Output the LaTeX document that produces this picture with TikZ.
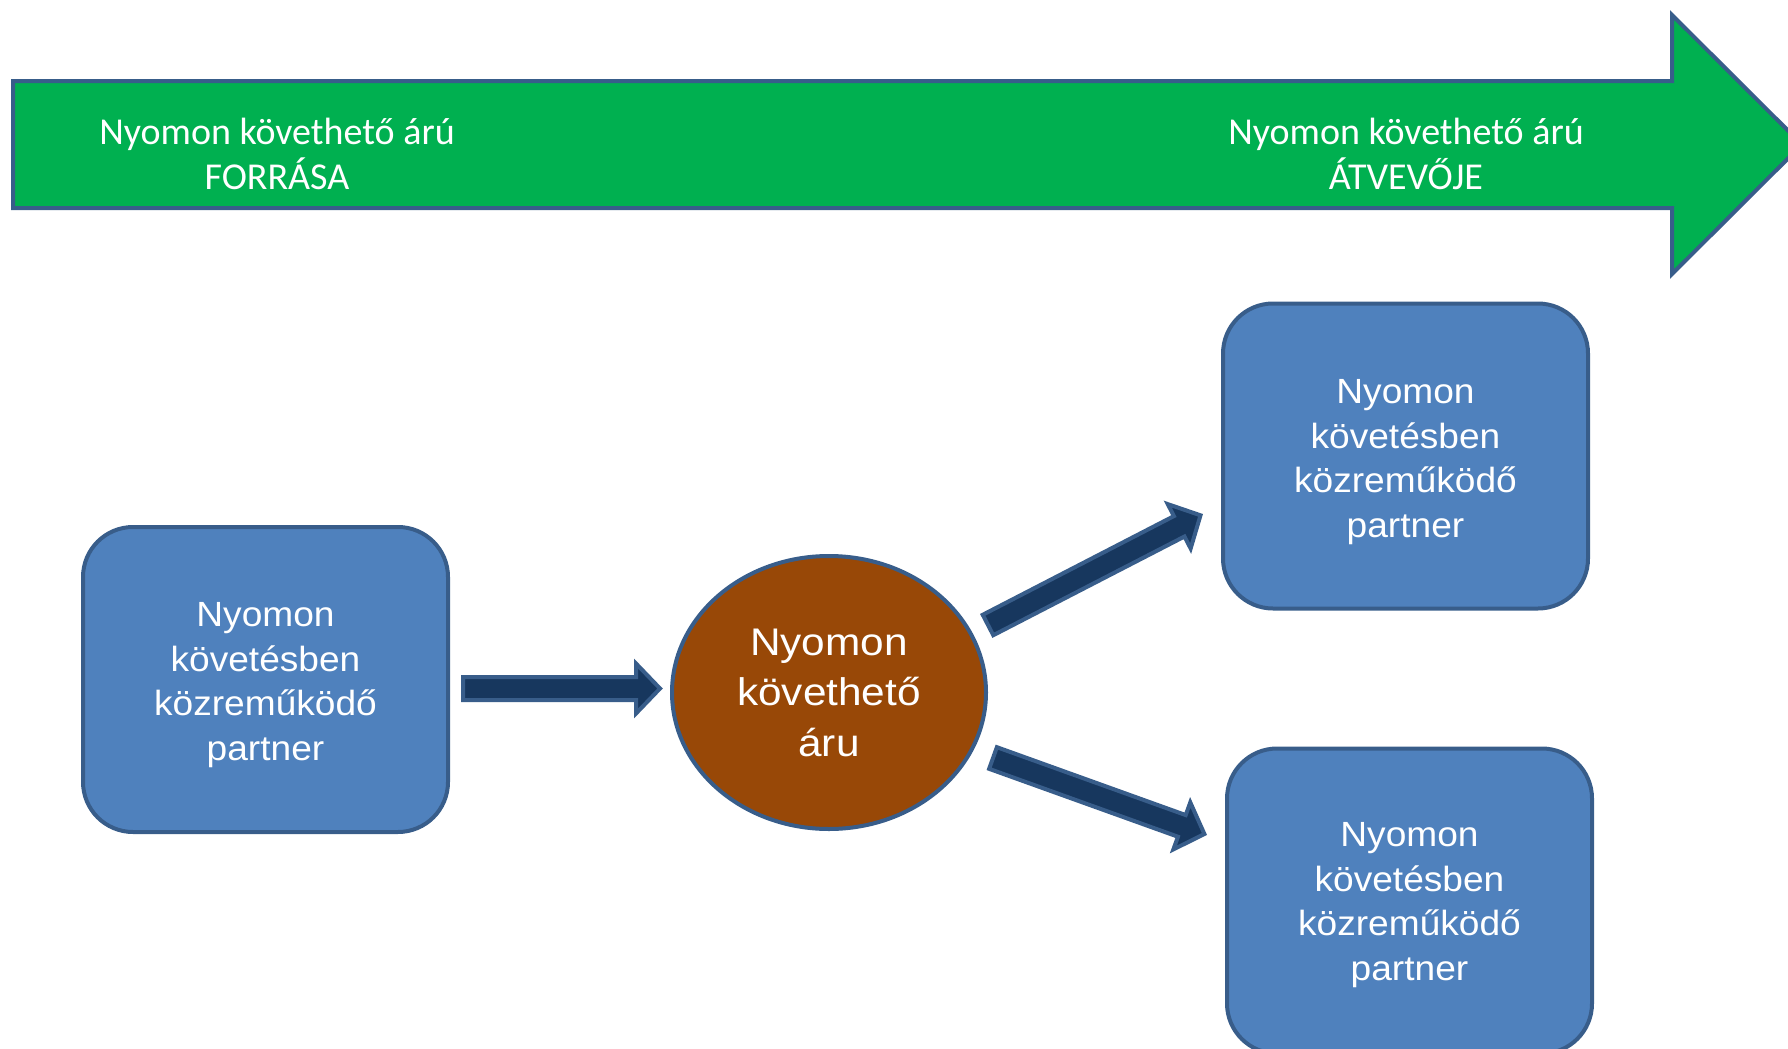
\documentclass[tikz,border=0pt]{standalone}
\usepackage{fontspec}
\setmainfont{Liberation Sans}
\newfontfamily\calfont{Carlito}
\newfontfamily\boxfont[FakeStretch=1.06]{Liberation Sans}
\newfontfamily\ellfont[FakeStretch=1.1]{Liberation Sans}
\usetikzlibrary{calc,shapes.geometric}
\definecolor{bargreen}{HTML}{00B050}
\definecolor{edgeblue}{HTML}{385D8A}
\definecolor{boxblue}{HTML}{4F81BD}
\definecolor{navy}{HTML}{17375E}
\definecolor{brownfill}{HTML}{984807}
\tikzset{
  bigarrow/.style={fill=bargreen, draw=edgeblue, line width=4pt},
  bartext/.style={text=white, align=center, inner sep=0pt, font=\calfont\fontsize{38}{45}\selectfont},
  partner/.style={rectangle, rounded corners=50pt, fill=boxblue, draw=edgeblue, line width=4pt,
    minimum width=365pt, minimum height=305pt, text=white, align=center, inner sep=0pt,
    font=\boxfont\fontsize{35}{44.5}\selectfont},
  goods/.style={ellipse, fill=brownfill, draw=edgeblue, line width=4pt,
    minimum width=314pt, minimum height=273pt, text=white, align=center, inner sep=0pt,
    font=\ellfont\fontsize{38.5}{50.5}\selectfont},
  barrow/.style={fill=navy, draw=edgeblue, line width=4pt, line join=miter}
}
\newcommand\partnertext[1]{\rule{0pt}{#1}Nyomon\\követésben\\közreműködő\\partner}
\newcommand\blockarrow[2]{%
  \coordinate (ba-n) at ($(#2)!24pt!(#1)$);
  \draw[barrow] ($(#1)!11.5pt!90:(#2)$) -- ($(ba-n)!11.5pt!90:(#2)$) -- ($(ba-n)!25pt!90:(#2)$)
    -- (#2) -- ($(ba-n)!25pt!-90:(#2)$) -- ($(ba-n)!11.5pt!-90:(#2)$) -- ($(#1)!11.5pt!-90:(#2)$) -- cycle;
}
\begin{document}
\begin{tikzpicture}[x=1pt,y=-1pt]
\useasboundingbox (0,0) rectangle (1788,1049);
\clip (0,0) rectangle (1788,1049);
% big green arrow
\draw[bigarrow] (13,81) -- (1672,81) -- (1672,15) -- (1802,144.5) -- (1672,274) -- (1672,208) -- (13,208) -- cycle;
\node[bartext] (src) at (277,154) {Nyomon követhető árú\\FORRÁSA};
\node[bartext] (dst) at (1406,154) {Nyomon követhető árú\\ÁTVEVŐJE};
% nodes
\node[partner] (p1) at (265.5,679.5) {\partnertext{35pt}};
\node[partner] (p2) at (1405.5,456) {\partnertext{36pt}};
\node[partner] (p3) at (1409.5,901) {\partnertext{32pt}};
\node[goods] (g) at (829,692.5) {Nyomon\\követhető\\áru};
% block arrows
\coordinate (a1s) at (463,688.5);
\coordinate (a1e) at (660,688.5);
\coordinate (a2s) at (988,625);
\coordinate (a2e) at (1200.5,515.3);
\coordinate (a3s) at (993,758);
\coordinate (a3e) at (1204.4,834);
\blockarrow{a1s}{a1e}
\blockarrow{a2s}{a2e}
\blockarrow{a3s}{a3e}
\end{tikzpicture}
\end{document}
